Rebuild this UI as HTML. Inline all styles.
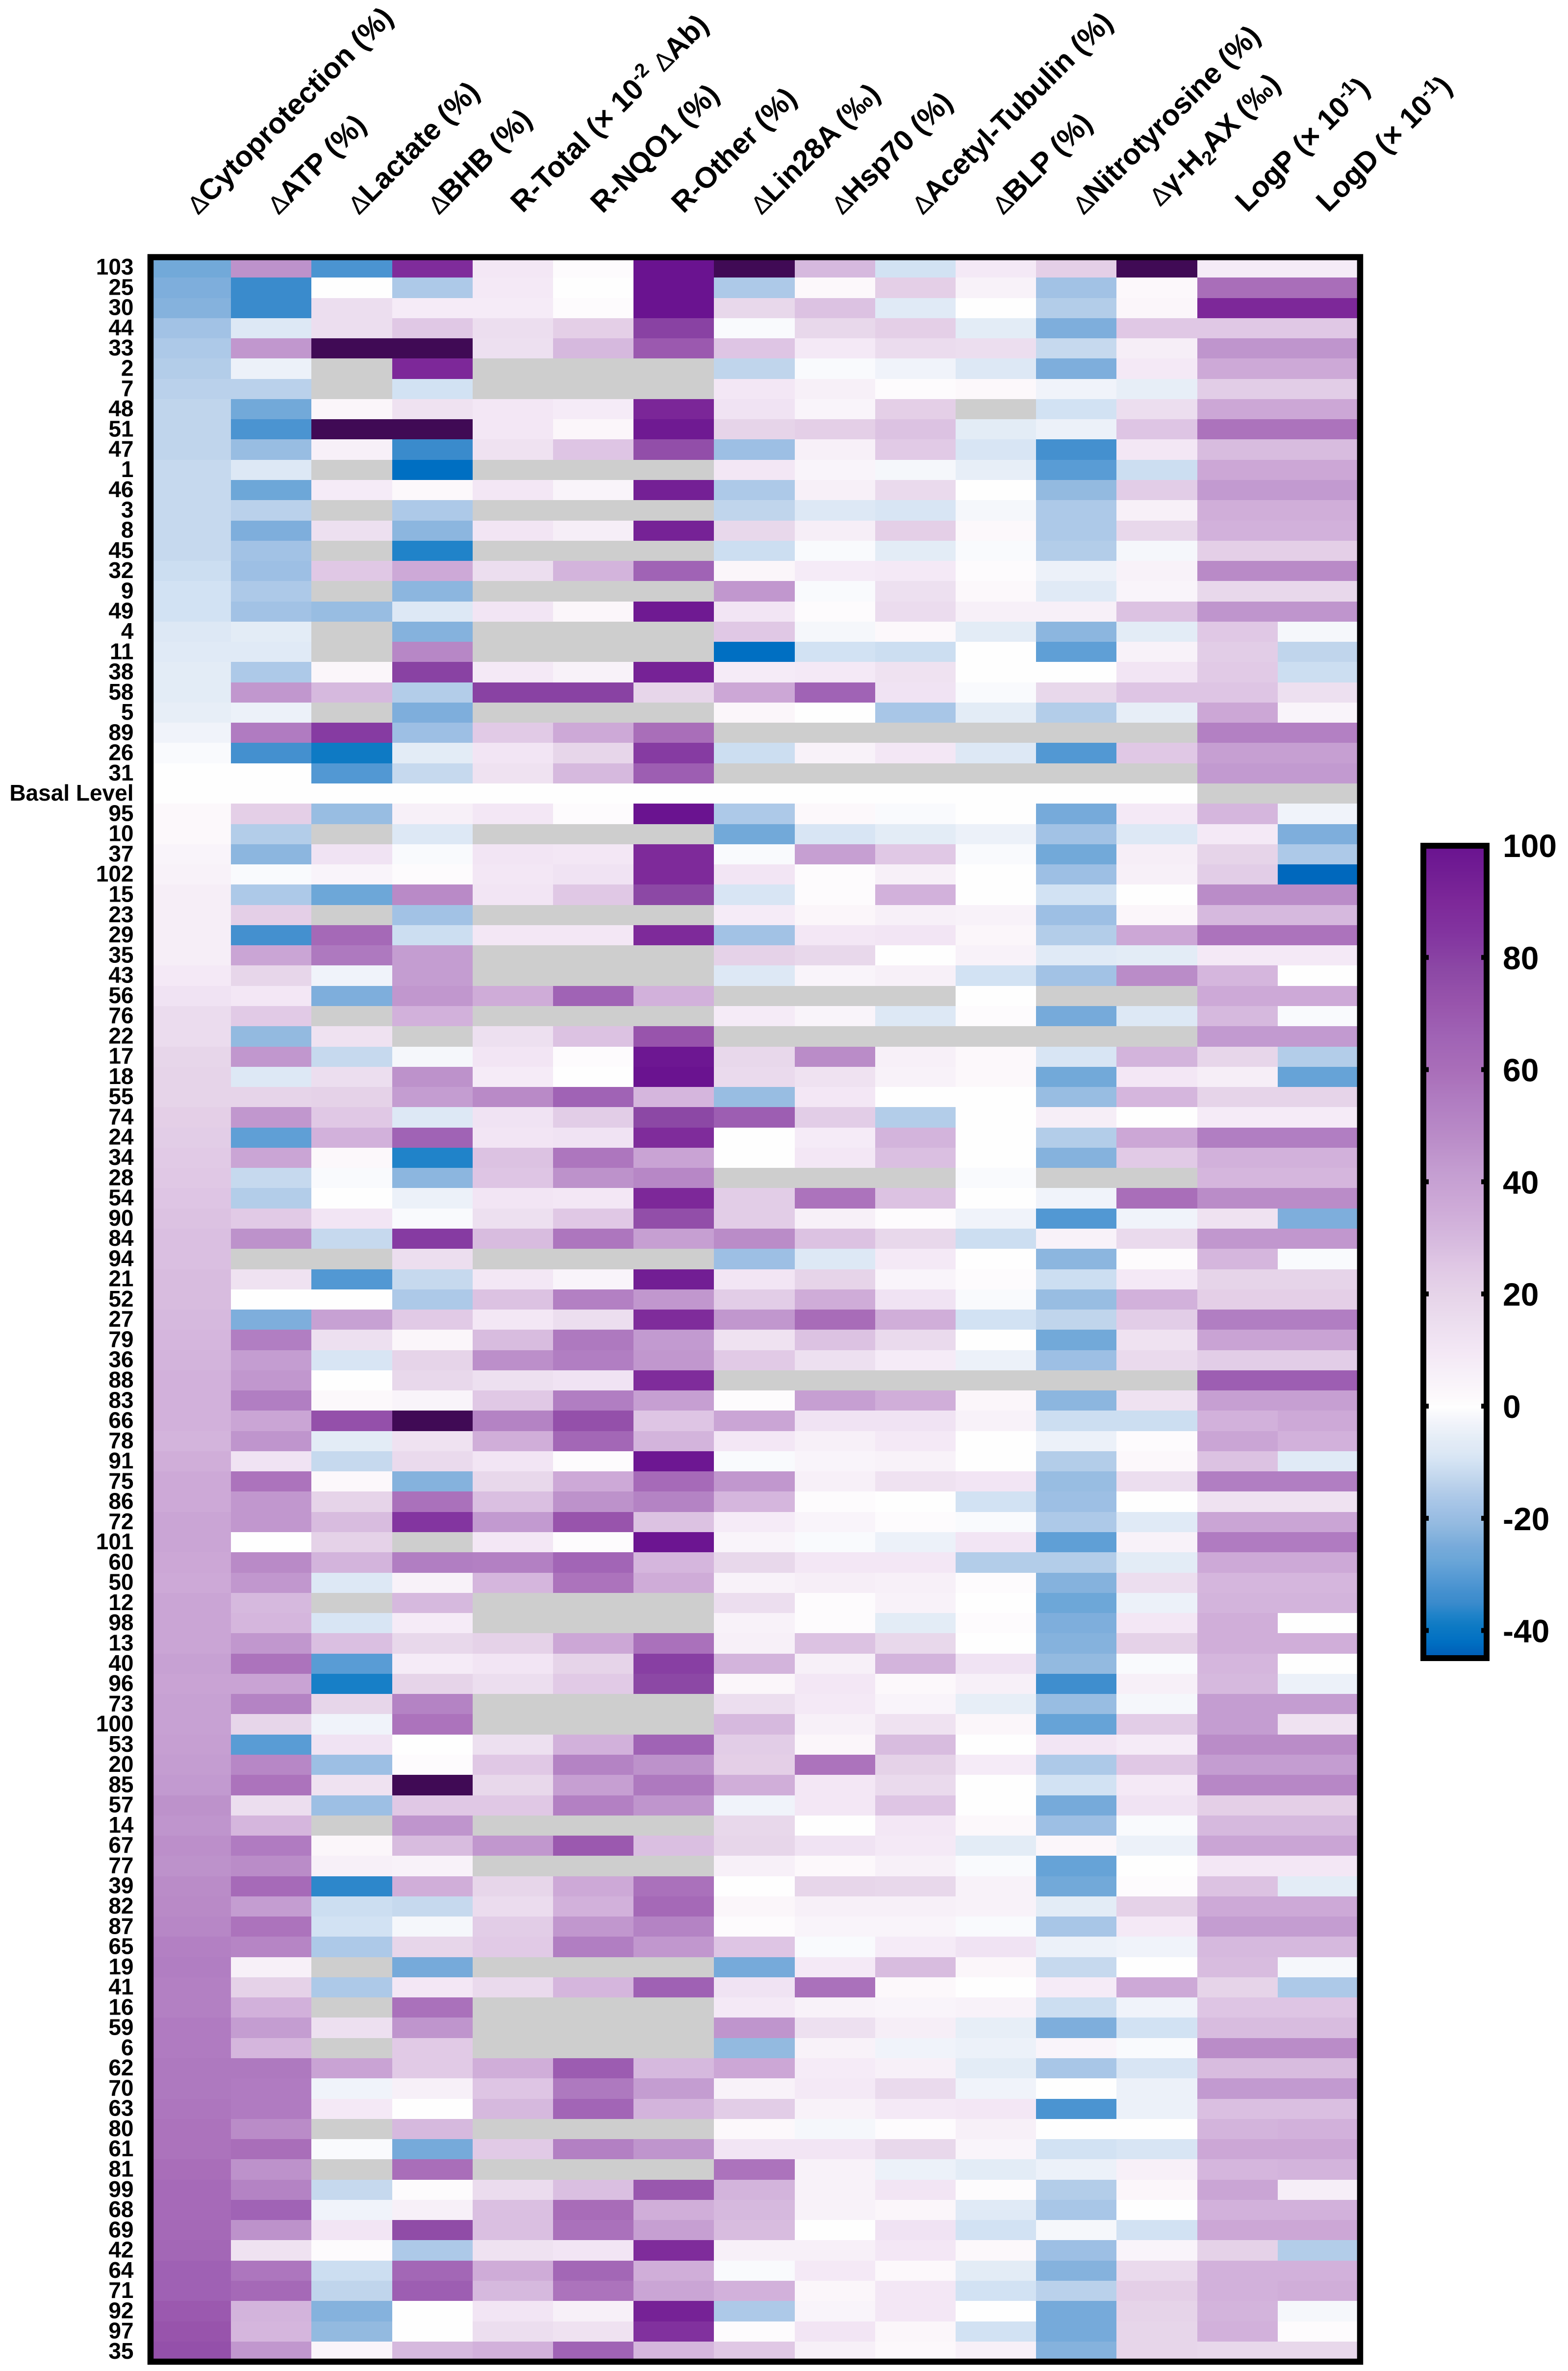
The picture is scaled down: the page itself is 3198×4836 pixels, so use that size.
<!DOCTYPE html>
<html lang="en">
<head>
<meta charset="utf-8">
<title>Compound activity heatmap</title>
<style>
html,body{margin:0;padding:0;background:#fff}
svg{display:block}
text{font-family:"Liberation Sans",Arial,sans-serif;font-weight:700;fill:#000}
.h{font-size:59.5px}
.s{font-size:40px}
.d{font-size:52px;font-weight:400}
</style>
</head>
<body>
<svg id="chart" xmlns="http://www.w3.org/2000/svg" width="3198" height="4836" viewBox="0 0 3198 4836">
<rect width="3198" height="4836" fill="#fff"/>
<g id="cells" shape-rendering="crispEdges"></g>
<rect x="307" y="524.5" width="2467" height="4292.5" fill="none" stroke="#000" stroke-width="12.5"/>
<g id="row-labels"></g>
<g id="col-labels">
<text class="h" transform="translate(404,440) rotate(-45)"><tspan class="d">Δ</tspan>Cytoprotection (%)</text>
<text class="h" transform="translate(568,440) rotate(-45)"><tspan class="d">Δ</tspan>ATP (%)</text>
<text class="h" transform="translate(732,440) rotate(-45)"><tspan class="d">Δ</tspan>Lactate (%)</text>
<text class="h" transform="translate(895,440) rotate(-45)"><tspan class="d">Δ</tspan>BHB (%)</text>
<text class="h" transform="translate(1066,436) rotate(-45)">R-Total (× 10<tspan class="s" dy="-22">-2</tspan><tspan dy="22"> </tspan><tspan class="d">Δ</tspan>Ab)</text>
<text class="h" transform="translate(1229,437) rotate(-45)">R-NQO1 (%)</text>
<text class="h" transform="translate(1394,437) rotate(-45)">R-Other (%)</text>
<text class="h" transform="translate(1553,440) rotate(-45)"><tspan class="d">Δ</tspan>Lin28A (‰)</text>
<text class="h" transform="translate(1718,440) rotate(-45)"><tspan class="d">Δ</tspan>Hsp70 (%)</text>
<text class="h" transform="translate(1882,440) rotate(-45)"><tspan class="d">Δ</tspan>Acetyl-Tubulin (%)</text>
<text class="h" transform="translate(2046,440) rotate(-45)"><tspan class="d">Δ</tspan>BLP (%)</text>
<text class="h" transform="translate(2210,440) rotate(-45)"><tspan class="d">Δ</tspan>Nitrotyrosine (%)</text>
<text class="h" transform="translate(2366,423) rotate(-45)"><tspan class="d">Δ</tspan>γ-H<tspan class="s" dy="12">2</tspan><tspan dy="-12">AX (‰)</tspan></text>
<text class="h" transform="translate(2544,435) rotate(-45)">LogP (× 10<tspan class="s" dy="-22">-1</tspan><tspan dy="22">)</tspan></text>
<text class="h" transform="translate(2709,435) rotate(-45)">LogD (× 10<tspan class="s" dy="-22">-1</tspan><tspan dy="22">)</tspan></text>
</g>
<g id="colorbar"></g>
</svg>
<script>
const N = null;
const rowLabels = ["103","25","30","44","33","2","7","48","51","47","1","46","3","8","45","32","9","49","4","11","38","58","5","89","26","31","Basal Level","95","10","37","102","15","23","29","35","43","56","76","22","17","18","55","74","24","34","28","54","90","84","94","21","52","27","79","36","88","83","66","78","91","75","86","72","101","60","50","12","98","13","40","96","73","100","53","20","85","57","14","67","77","39","82","87","65","19","41","16","59","6","62","70","63","80","61","81","99","68","69","42","64","71","92","97","35"];
const tickLabels = [100,80,60,40,20,0,-20,-40];

const row103=[-26,46,-32,88,10,1,100,120,30,-10,9,22,120,8,8];
const row25=[-24,-35,0,-16,9,0,100,-16,2,22,5,-18,2,60,60];
const row30=[-23,-35,15,8,8,1,100,18,27,-7,0,-15,3,90,90];
const row44=[-18,-8,15,25,15,22,80,-1,18,22,-6,-24,25,25,25];
const row33=[-16,44,120,120,14,30,70,26,9,16,15,-12,7,45,45];
const row2=[-15,-4,N,90,N,N,N,-13,-1,-3,-8,-24,9,36,36];
const row7=[-14,-14,N,-10,N,N,N,10,6,1,2,-3,-5,23,23];
const row48=[-13,-26,3,13,10,8,91,12,4,22,N,-10,15,37,37];
const row51=[-13,-32,120,120,10,3,97,20,22,27,-6,-4,26,58,58];
const row47=[-13,-20,6,-35,13,26,75,-19,6,24,-9,-33,10,29,29];
const row1=[-12,-8,N,-42,N,N,N,10,4,-2,-5,-30,-11,37,37];
const row46=[-12,-27,8,2,10,4,94,-16,6,17,0,-21,23,43,43];
const row3=[-12,-14,N,-16,N,N,N,-13,-8,-9,-2,-16,6,34,34];
const row8=[-12,-24,14,-22,11,7,93,18,7,22,2,-16,18,33,33];
const row45=[-12,-18,N,-37,N,N,N,-11,-1,-6,-1,-15,-2,22,22];
const row32=[-11,-19,25,36,15,32,66,3,8,9,1,-4,5,49,49];
const row9=[-10,-16,N,-22,N,N,N,44,-1,14,2,-7,4,18,18];
const row49=[-10,-18,-20,-8,11,3,97,11,1,16,6,6,27,45,45];
const row4=[-8,-6,N,-23,N,N,N,25,-2,2,-6,-22,-6,25,-2];
const row11=[-7,-7,N,50,N,N,N,-42,-10,-11,0,-29,5,23,-13];
const row38=[-6,-16,3,80,9,5,93,8,9,13,0,0,11,24,-11];
const row58=[-6,44,30,-15,80,80,19,37,66,12,-1,18,26,26,14];
const row5=[-5,-4,N,-24,N,N,N,3,0,-17,-6,-15,-5,37,4];
const row89=[-3,55,82,-19,24,36,60,N,N,N,N,N,N,53,53];
const row26=[-1,-33,-39,-6,11,19,82,-11,5,10,-8,-31,25,41,41];
const row31=[0,0,-31,-12,13,30,68,N,N,N,N,N,N,43,43];
const rowBasal=[0,0,0,0,0,0,0,0,0,0,0,0,0,N,N];
const row95=[2,22,-20,6,10,1,100,-16,2,-1,0,-25,9,31,-3];
const row10=[2,-15,N,-8,N,N,N,-26,-9,-6,-4,-18,-8,9,-24];
const row37=[4,-22,12,-1,11,10,89,-1,41,25,-1,-26,7,20,-16];
const row102=[5,-1,4,1,10,12,89,11,1,6,0,-19,6,23,-43];
const row15=[7,-16,-27,49,11,25,78,-9,1,33,0,-10,0,48,48];
const row23=[7,22,N,-18,N,N,N,8,3,6,5,-19,3,30,30];
const row29=[7,-33,63,-11,10,10,89,-18,10,11,3,-15,37,58,58];
const row35a=[7,38,56,42,N,N,N,21,18,0,5,-7,-6,9,9];
const row43=[9,19,-3,42,N,N,N,-8,4,6,-10,-18,48,31,0];
const row56=[12,10,-24,44,35,66,33,N,N,N,0,N,N,36,36];
const row76=[16,24,N,33,N,N,N,8,4,-8,1,-25,-8,30,-1];
const row22=[16,-21,13,N,14,27,72,N,N,N,N,N,N,43,43];
const row17=[19,44,-12,-2,11,1,98,18,48,6,2,-9,32,19,-15];
const row18=[20,-8,15,46,8,0,100,17,13,5,2,-26,10,7,-28];
const row55=[20,20,21,42,49,66,31,-20,10,0,0,-20,31,20,20];
const row74=[22,44,25,-8,12,23,78,68,23,-15,0,7,0,8,8];
const row24=[23,-29,33,66,11,12,88,0,8,32,0,-15,37,54,54];
const row34=[24,38,2,-37,27,57,39,0,10,28,0,-23,24,33,33];
const row28=[25,-12,-1,-22,26,46,50,N,N,N,-1,N,N,31,31];
const row54=[26,-15,0,-4,11,10,90,23,58,27,0,-3,60,48,48];
const row90=[27,24,11,-1,14,25,75,23,6,1,-3,-31,-3,13,-24];
const row84=[28,46,-12,82,29,57,41,48,27,18,-11,5,17,44,44];
const row94=[28,N,N,15,N,N,N,-19,-8,9,0,-22,1,31,-1];
const row21=[29,13,-31,-12,10,4,95,11,20,4,1,-11,9,20,20];
const row52=[29,0,0,-16,27,53,44,23,35,12,-1,-20,33,22,22];
const row27=[30,-24,40,24,10,15,88,44,61,34,-10,-13,23,54,54];
const row79=[31,54,14,3,29,56,43,13,27,17,0,-26,13,39,39];
const row36=[32,42,-9,20,47,54,44,24,14,8,-4,-19,17,23,23];
const row88=[33,44,0,18,14,12,88,N,N,N,N,N,N,68,68];
const row83=[33,54,2,4,25,54,41,1,41,34,3,-22,13,41,41];
const row66=[33,38,74,120,52,74,26,38,12,12,5,-11,-11,33,36];
const row78=[32,45,-6,13,34,64,32,10,6,9,0,-4,1,38,33];
const row91=[34,12,-12,17,11,1,98,-1,4,5,0,-15,2,27,-7];
const row75=[36,58,2,-23,18,36,62,44,6,13,11,-20,15,54,54];
const row86=[36,44,20,59,28,46,52,31,1,0,-10,-19,0,13,13];
const row72=[38,44,29,84,43,72,27,8,4,1,-1,-16,-7,38,38];
const row101=[38,0,21,N,10,1,99,4,-1,-4,11,-29,5,55,55];
const row60=[37,49,32,54,53,65,31,18,10,10,-15,-15,-6,36,36];
const row50=[36,44,-8,5,31,58,35,5,7,6,1,-23,15,31,31];
const row12=[38,30,N,30,N,N,N,15,1,5,0,-27,-4,32,32];
const row98=[38,31,-9,8,N,N,N,5,1,-6,1,-24,10,34,0];
const row13=[38,44,28,18,21,37,59,6,27,18,0,-23,21,34,34];
const row40=[40,58,-30,8,11,20,81,32,6,32,12,-21,-1,31,0];
const row96=[39,39,-38,20,15,24,78,3,10,2,6,-34,6,30,-4];
const row73=[40,52,19,52,N,N,N,15,9,4,-5,-20,-2,42,42];
const row100=[40,19,-3,58,N,N,N,30,6,13,3,-28,23,42,13];
const row53=[41,-30,12,0,14,33,66,23,3,29,0,11,8,48,48];
const row20=[42,50,-19,1,25,52,46,22,58,21,8,-16,25,42,42];
const row85=[43,58,13,120,18,41,56,34,10,17,0,-10,9,50,50];
const row57=[46,15,-19,25,25,53,45,-3,10,26,0,-25,12,22,22];
const row14=[45,31,N,45,N,N,N,18,0,10,2,-19,-1,30,30];
const row67=[47,55,3,29,44,70,28,19,12,9,-6,3,-4,38,38];
const row77=[46,48,6,5,N,N,N,6,2,6,-1,-28,0,10,10];
const row39=[48,62,-36,34,19,36,59,0,19,18,5,-26,1,27,-6];
const row82=[49,42,-11,-12,16,33,63,3,6,6,5,-6,21,36,36];
const row87=[50,58,-10,-2,23,44,52,1,4,4,-1,-17,9,42,42];
const row65=[53,51,-16,19,24,54,44,26,-1,8,12,-4,-3,30,30];
const row19=[54,6,N,-25,N,N,N,-25,9,29,3,-12,0,29,-2];
const row41=[53,21,-16,10,17,31,67,12,59,2,0,8,36,20,-16];
const row16=[53,33,N,59,N,N,N,9,5,4,5,-11,-3,26,26];
const row59=[55,42,14,45,N,N,N,45,14,7,-5,-24,-10,29,29];
const row6=[55,31,N,24,N,N,N,-21,5,-3,-4,4,-1,48,48];
const row62=[56,56,39,24,34,69,30,37,8,6,-6,-17,-9,29,29];
const row70=[56,55,-3,6,26,56,42,5,9,17,-3,0,-4,43,43];
const row63=[57,55,9,0,30,65,32,23,5,9,10,-32,-4,28,28];
const row80=[58,48,N,30,N,N,N,2,-2,1,6,0,0,32,33];
const row61=[58,60,-1,-25,24,53,45,11,11,18,4,-10,-9,37,37];
const row81=[60,46,N,60,N,N,N,58,5,-4,-6,-4,6,31,32];
const row99=[62,52,-12,1,16,28,71,32,5,11,1,-15,3,38,7];
const row68=[62,66,-3,6,28,61,34,30,5,3,-7,-17,0,33,33];
const row69=[63,46,11,76,28,59,41,29,0,12,-10,-2,-10,37,37];
const row42=[64,13,1,-16,13,11,88,6,6,10,2,-19,4,21,-15];
const row64=[67,57,-11,64,35,64,34,-1,9,2,-6,-23,17,33,33];
const row71=[67,63,-13,68,30,58,38,33,3,10,-10,-14,22,33,34];
const row92=[70,32,-23,0,11,6,93,-16,4,10,0,-25,20,32,-2];
const row97=[72,31,-21,0,15,13,86,1,11,3,-10,-25,19,33,1];
const row35b=[74,44,4,30,33,66,31,25,6,2,6,-23,19,18,18];

const rowValues = [row103,row25,row30,row44,row33,row2,row7,row48,row51,row47,row1,row46,row3,row8,row45,row32,row9,row49,row4,row11,row38,row58,row5,row89,row26,row31,rowBasal,row95,row10,row37,row102,row15,row23,row29,row35a,row43,row56,row76,row22,row17,row18,row55,row74,row24,row34,row28,row54,row90,row84,row94,row21,row52,row27,row79,row36,row88,row83,row66,row78,row91,row75,row86,row72,row101,row60,row50,row12,row98,row13,row40,row96,row73,row100,row53,row20,row85,row57,row14,row67,row77,row39,row82,row87,row65,row19,row41,row16,row59,row6,row62,row70,row63,row80,row61,row81,row99,row68,row69,row42,row64,row71,row92,row97,row35b];

const SVGNS = "http://www.w3.org/2000/svg";
const colorStops = [
  [-44,"#0060b8"],[-42,"#006fc2"],[-39,"#0e7ac4"],[-37,"#2083c9"],[-35,"#3a8bcc"],[-33,"#4490cf"],[-31,"#5298d3"],[-29,"#5f9fd6"],[-27,"#6da7d8"],[-25,"#76aada"],[-23,"#85b2dd"],[-21,"#93bae0"],[-19,"#9dbfe4"],[-16,"#adc9e8"],[-13,"#c0d5ec"],[-10,"#d2e2f3"],[-8,"#dde8f5"],[-6,"#e3ecf6"],[-3,"#f0f3fa"],[0,"#fefefe"],
  [2,"#fcf8fb"],[5,"#f8f2f9"],[10,"#f3e7f5"],[15,"#ecdeef"],[20,"#e6d4e9"],[25,"#e0c8e5"],[30,"#d6b9de"],[36,"#cda9d7"],[42,"#c49dd1"],[48,"#ba8cc8"],[54,"#b17ec2"],[60,"#a96eb9"],[66,"#a063b5"],[72,"#9854ac"],[78,"#8c48a5"],[84,"#8335a0"],[90,"#7d2899"],[95,"#721e94"],[100,"#6a1390"],[101,"#400a55"],[130,"#400a55"]
];
function hexToRgb(h){return [parseInt(h.slice(1,3),16),parseInt(h.slice(3,5),16),parseInt(h.slice(5,7),16)];}
function colorScale(v){
  if(v===null) return "#cecece";
  if(v<=colorStops[0][0]) return colorStops[0][1];
  for(let i=1;i<colorStops.length;i++){
    if(v<=colorStops[i][0]){
      const a=colorStops[i-1],b=colorStops[i];
      const t=(v-a[0])/(b[0]-a[0]);
      const ca=hexToRgb(a[1]),cb=hexToRgb(b[1]);
      return "rgb("+ca.map((c,k)=>Math.round(c+(cb[k]-c)*t)).join(",")+")";
    }
  }
  return colorStops[colorStops.length-1][1];
}
const plotX0=307, colWidth=164.2, plotY0=525, rowHeight=41.27;
function xPos(col){return plotX0+col*colWidth;}
function yPos(row){return plotY0+row*rowHeight;}
function barY(v){return 2868-(v*11.44);}

const cells=document.getElementById("cells");
rowValues.forEach((vals,r)=>{
  vals.forEach((v,c)=>{
    const el=document.createElementNS(SVGNS,"rect");
    
    
    el.setAttribute("x",Math.round(xPos(c)));
    el.setAttribute("y",Math.round(yPos(r)));
    el.setAttribute("width",Math.round(xPos(c+1))-Math.round(xPos(c)));
    el.setAttribute("height",Math.round(yPos(r+1))-Math.round(yPos(r)));
    el.setAttribute("fill",colorScale(v));
    cells.appendChild(el);
  });
});

const rowLabelGroup=document.getElementById("row-labels");
rowLabels.forEach((t,r)=>{
  const el=document.createElementNS(SVGNS,"text");
  
  
  el.setAttribute("x",272.5);
  el.setAttribute("y",yPos(r)+rowHeight/2+14.5);
  el.setAttribute("text-anchor","end");
  el.setAttribute("font-size",46);
  el.textContent=t;
  rowLabelGroup.appendChild(el);
});

const bar=document.getElementById("colorbar");
const barTop=1731, barBottom=3377;
const gradientGroup=document.createElementNS(SVGNS,"g");


gradientGroup.setAttribute("shape-rendering","crispEdges");
bar.appendChild(gradientGroup);
for(let y=barTop;y<barBottom;y+=3){
  const el=document.createElementNS(SVGNS,"rect");
  
  
  el.setAttribute("x",2905);
  el.setAttribute("y",y);
  el.setAttribute("width",125);
  el.setAttribute("height",3);
  el.setAttribute("fill",colorScale((2868-y)/11.44));
  gradientGroup.appendChild(el);
}
const barFrame=document.createElementNS(SVGNS,"rect");


barFrame.setAttribute("x",2903);
barFrame.setAttribute("y",1725);
barFrame.setAttribute("width",129);
barFrame.setAttribute("height",1657);
barFrame.setAttribute("fill","none");
barFrame.setAttribute("stroke","#000");
barFrame.setAttribute("stroke-width",12);
bar.appendChild(barFrame);
tickLabels.forEach(v=>{
  const y=barY(v);
  if(v!==100){
    [[2909,5],[3021,5]].forEach(p=>{
      const tick=document.createElementNS(SVGNS,"rect");
      
      
      tick.setAttribute("x",p[0]);
      tick.setAttribute("y",y-5);
      tick.setAttribute("width",p[1]);
      tick.setAttribute("height",10);
      tick.setAttribute("fill","#000");
      bar.appendChild(tick);
    });
  }
  const label=document.createElementNS(SVGNS,"text");
  
  
  label.setAttribute("x",3065);
  label.setAttribute("y",y+24);
  label.setAttribute("font-size",66);
  label.textContent=String(v);
  bar.appendChild(label);
});
</script>
</body>
</html>
